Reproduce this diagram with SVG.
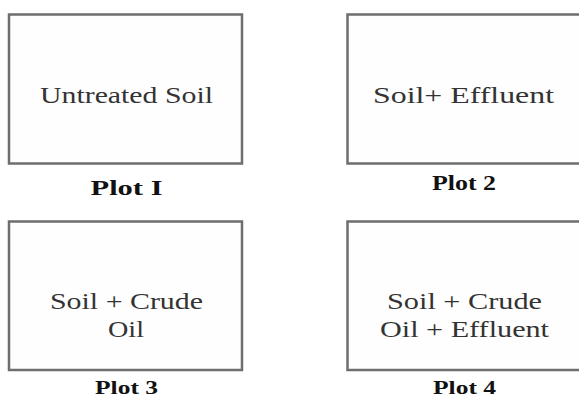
<svg xmlns="http://www.w3.org/2000/svg" width="579" height="398" viewBox="0 0 579 398">
<style>
.box{fill:#fefefe;stroke:#6e6e6e;stroke-width:2.5}
.t{font-family:"Liberation Serif","DejaVu Serif","Times New Roman",serif;font-size:24px;fill:#333;text-anchor:middle}
.p{font-family:"Liberation Serif","DejaVu Serif","Times New Roman",serif;font-size:21px;font-weight:bold;fill:#111;text-anchor:middle}
.p2{font-size:18px}
</style>
<rect width="579" height="398" fill="#ffffff"/>
<g id="plot1">
<rect class="box" x="9" y="14.5" width="233" height="149"/>
<text class="t" x="126.5" y="103" textLength="173" lengthAdjust="spacingAndGlyphs">Untreated Soil</text>
<text class="p" x="126.5" y="195" textLength="72" lengthAdjust="spacingAndGlyphs">Plot I</text>
</g>
<g id="plot2">
<rect class="box" x="347.5" y="14.5" width="240" height="149"/>
<text class="t" x="463.5" y="103" textLength="181" lengthAdjust="spacingAndGlyphs">Soil+ Effluent</text>
<text class="p" x="464" y="190" textLength="64" lengthAdjust="spacingAndGlyphs">Plot 2</text>
</g>
<g id="plot3">
<rect class="box" x="9" y="221.5" width="233" height="148.5"/>
<text class="t" x="126.5" y="309" textLength="153" lengthAdjust="spacingAndGlyphs">Soil + Crude</text>
<text class="t" x="126" y="337" textLength="36" lengthAdjust="spacingAndGlyphs">Oil</text>
<text class="p p2" x="126.5" y="394" textLength="63" lengthAdjust="spacingAndGlyphs">Plot 3</text>
</g>
<g id="plot4">
<rect class="box" x="347.5" y="221.5" width="240" height="148.5"/>
<text class="t" x="464.5" y="309" textLength="155" lengthAdjust="spacingAndGlyphs">Soil + Crude</text>
<text class="t" x="464.5" y="337" textLength="169" lengthAdjust="spacingAndGlyphs">Oil + Effluent</text>
<text class="p p2" x="464.5" y="394" textLength="63" lengthAdjust="spacingAndGlyphs">Plot 4</text>
</g>
<g id="connectors"/>
</svg>
